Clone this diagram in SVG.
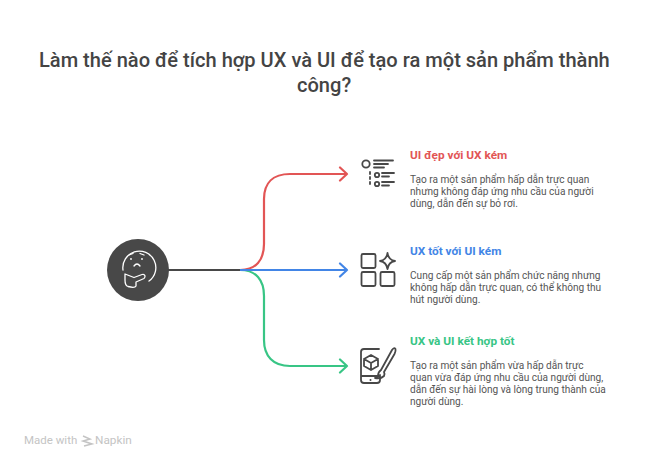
<svg xmlns="http://www.w3.org/2000/svg" width="654" height="468" viewBox="0 0 654 468">
<style>
text{font-family:Roboto,"Liberation Sans",sans-serif}
.t{font-size:20.070px;font-weight:500;fill:#444}
.h{font-size:11.800px;font-weight:700}
.b{font-size:10.100px;fill:#555}
.c{fill:none;stroke-width:2.200;stroke-linecap:round;stroke-linejoin:round}
.i{fill:none;stroke:#484848;stroke-width:1.800;stroke-linecap:round;stroke-linejoin:round}
.w{fill:none;stroke:#fff;stroke-width:1.300;stroke-linecap:round;stroke-linejoin:round}
</style>
<rect width="654" height="468" fill="#fff"/>
<g id="title"><text class="t" x="39" y="67">Làm thế nào để tích hợp UX và UI để tạo ra một sản phẩm thành</text><text class="t" x="297" y="92">công?</text></g>
<g id="connectors">
<path class="c" stroke="#e25555" d="M240 270C256 270 264 260 264 244V199C264 183 273 174 290 174H347M340 167.500L347 174L340 180.500"/>
<path class="c" stroke="#38c585" d="M240 270C256 270 264 280 264 296V340C264 356 273 366 290 366H347M340 359.500L347 366L340 372.500"/>
<path class="c" stroke="#4285e6" d="M240 270H347M340 263.500L347 270L340 276.500"/>
<path fill="none" stroke="#484848" stroke-width="2.200" d="M168 270H240"/>
</g>
<g id="root"><circle cx="138" cy="270" r="31" fill="#484848"/>
<path class="w" d="M123 270A16.500 16.500 0 1 1 149 281"/>
<path class="w" d="M125 274L134 277.500L142 274.500C145 273.500 146 277 144 278.500L136 282L136 286C135 288 132 287.500 128 286.500C125 285.500 125 283 125 280Z"/>
<circle cx="131" cy="259" r=".9" fill="#fff"/><circle cx="142" cy="259" r=".9" fill="#fff"/>
<path class="w" d="M134 266Q137 262 140 266M129 255L133 253.500M140 253.500L144 255"/></g>
<g id="node1">
<circle class="i" cx="366" cy="164" r="3.700"/>
<path class="i" d="M374 160.500H393M374 164H388M374 167.500H384M370 172V174M370 177V179M370 182V184"/>
<circle class="i" cx="377" cy="175" r="2.200"/><circle class="i" cx="377" cy="184" r="2.200"/>
<path class="i" d="M382 173H394M382 176.500H389M382 182H394M382 185.500H389"/>
<text class="h" x="410" y="159" fill="#e25555">UI đẹp với UX kém</text>
<text class="b" x="410" y="183">Tạo ra một sản phẩm hấp dẫn trực quan</text>
<text class="b" x="410" y="195">nhưng không đáp ứng nhu cầu của người</text>
<text class="b" x="410" y="207">dùng, dẫn đến sự bỏ rơi.</text></g>
<g id="node2">
<rect class="i" x="361.500" y="254" width="14" height="14" rx="1.500"/>
<rect class="i" x="361.500" y="272" width="14" height="14" rx="1.500"/>
<rect class="i" x="380.500" y="272" width="14" height="14" rx="1.500"/>
<path class="i" d="M387.500 253Q388.500 260 395 261Q388.500 262 387.500 269Q386.500 262 380 261Q386.500 260 387.500 253Z"/>
<text class="h" x="410" y="255" fill="#4285e6">UX tốt với UI kém</text>
<text class="b" x="410" y="279">Cung cấp một sản phẩm chức năng nhưng</text>
<text class="b" x="410" y="291">không hấp dẫn trực quan, có thể không thu</text>
<text class="b" x="410" y="303">hút người dùng.</text></g>
<g id="node3">
<path class="i" d="M379 349H364Q361 349 361 352V380Q361 383 364 383H377Q380 383 380 380V375M361 376H380"/>
<circle cx="370.500" cy="380" r="1" fill="#484848"/>
<path class="i" d="M371 355L378 359V366L371 370L364 366V359ZM364 359L371 363L378 359M371 363V370"/>
<path class="i" d="M381 370L392 350Q394 347 395.500 349Q396 351 394.500 354L384 372M381 370Q378 372 378 376Q376 378 375 378Q381 379 384 376Q385 374 384 372"/>
<text class="h" x="410" y="345" fill="#38c585">UX và UI kết hợp tốt</text>
<text class="b" x="410" y="369">Tạo ra một sản phẩm vừa hấp dẫn trực</text>
<text class="b" x="410" y="381">quan vừa đáp ứng nhu cầu của người dùng,</text>
<text class="b" x="410" y="393">dẫn đến sự hài lòng và lòng trung thành của</text>
<text class="b" x="410" y="405">người dùng.</text></g>
<g id="watermark"><text x="24" y="444" font-size="11.500" fill="#c4c4c4">Made with</text>
<path fill="none" stroke="#c4c4c4" stroke-width="1.500" d="M83 436L90 439L83 441L92 444L84 446"/>
<text x="95" y="444" font-size="11.800" fill="#c4c4c4">Napkin</text></g>
</svg>
